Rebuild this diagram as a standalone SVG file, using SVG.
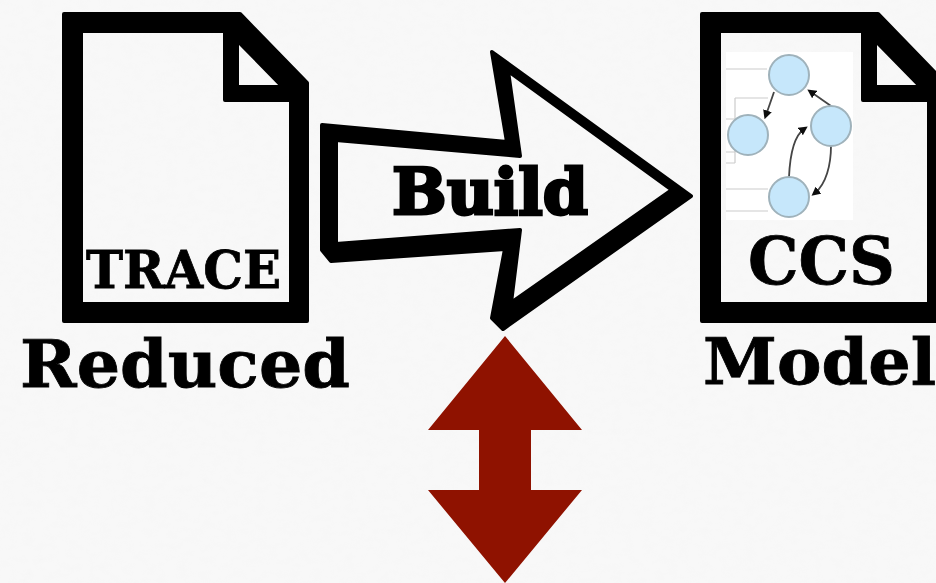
<svg xmlns="http://www.w3.org/2000/svg" width="936" height="583" viewBox="0 0 936 583">
<style>
.ink{fill:#000;fill-rule:evenodd;stroke:#000;stroke-width:4;stroke-linejoin:round}
.t{font-family:"DejaVu Serif","Liberation Serif",serif;font-weight:700;fill:#000;stroke:#000;stroke-width:.8}
.n{fill:#c6e7fb;stroke:#9fb2bb;stroke-width:2}
.e{fill:none;stroke:#444;stroke-width:1.8}
.f{fill:none;stroke:#ccc;stroke-width:1.2}
</style>
<defs>
<filter id="soft" x="-5%" y="-5%" width="110%" height="110%"><feGaussianBlur stdDeviation="0.6"/></filter>
<filter id="paper" x="0" y="0" width="100%" height="100%"><feTurbulence type="fractalNoise" baseFrequency="0.09 0.14" numOctaves="3" seed="4"/><feColorMatrix values="0 0 0 0 0.6 0 0 0 0 0.6 0 0 0 0 0.6 0.5 0 0 0 -0.2"/></filter>
<marker id="ah" viewBox="0 0 10 10" refX="5" refY="5" markerWidth="9" markerHeight="9" markerUnits="userSpaceOnUse" orient="auto"><path d="M0 0L10 5L0 10Z" fill="#111"/></marker>
<path id="doc" d="M64 14H240L307 83V321H64ZM81 31V304H291V100H225V31ZM237 40V87H283Z"/>
</defs>
<rect width="936" height="583" fill="#f8f8f8"/>
<rect width="936" height="583" filter="url(#paper)" opacity="0.12"/>
<g id="reduced-trace" filter="url(#soft)">
<use href="#doc" class="ink"/>
<text class="t" x="86" y="288" font-size="52" textLength="195" lengthAdjust="spacingAndGlyphs">TRACE</text>
<text class="t" x="20" y="387" font-size="66" textLength="330" lengthAdjust="spacingAndGlyphs">Reduced</text>
</g>
<g id="ccs-model" filter="url(#soft)">
<use href="#doc" x="638" class="ink"/>
<rect x="726" y="52" width="127" height="168" fill="#fff"/>
<path class="f" d="M726 69H767M735 98H768M735 98V163M726 119H735M726 152H735M726 163H735M726 189H768M726 211H768"/>
<path class="e" d="M774 92L766 115" marker-end="url(#ah)"/>
<path class="e" d="M831 106L811 92" marker-end="url(#ah)"/>
<path class="e" d="M789 177C790 155 794 136 804 129" marker-end="url(#ah)"/>
<path class="e" d="M831 146C831 165 826 184 815 193" marker-end="url(#ah)"/>
<circle class="n" cx="789" cy="75" r="20"/>
<circle class="n" cx="748" cy="135" r="20"/>
<circle class="n" cx="831" cy="126" r="20"/>
<circle class="n" cx="789" cy="197" r="20"/>
<text class="t" x="748" y="284" font-size="66" textLength="147" lengthAdjust="spacingAndGlyphs">CCS</text>
<text class="t" x="703" y="384" font-size="64" textLength="233" lengthAdjust="spacingAndGlyphs">Model</text>
</g>
<g id="connectors">
<g id="build-arrow" filter="url(#soft)">
<path class="ink" d="M322 125L507 142L492 52L691 196L503 329L492 318L505 249L331 261L322 250ZM336 140L520 156L508 71L672 190L511 303L520 230L336 244Z"/>
<text class="t" x="392" y="214" font-size="64" style="stroke-width:3" textLength="196" lengthAdjust="spacingAndGlyphs">Build</text>
</g>
<polygon id="double-arrow" fill="#8f1200" points="505,336 582,430 531,430 531,490 582,490 505,583 428,490 479,490 479,430 428,430"/>
</g>
</svg>
